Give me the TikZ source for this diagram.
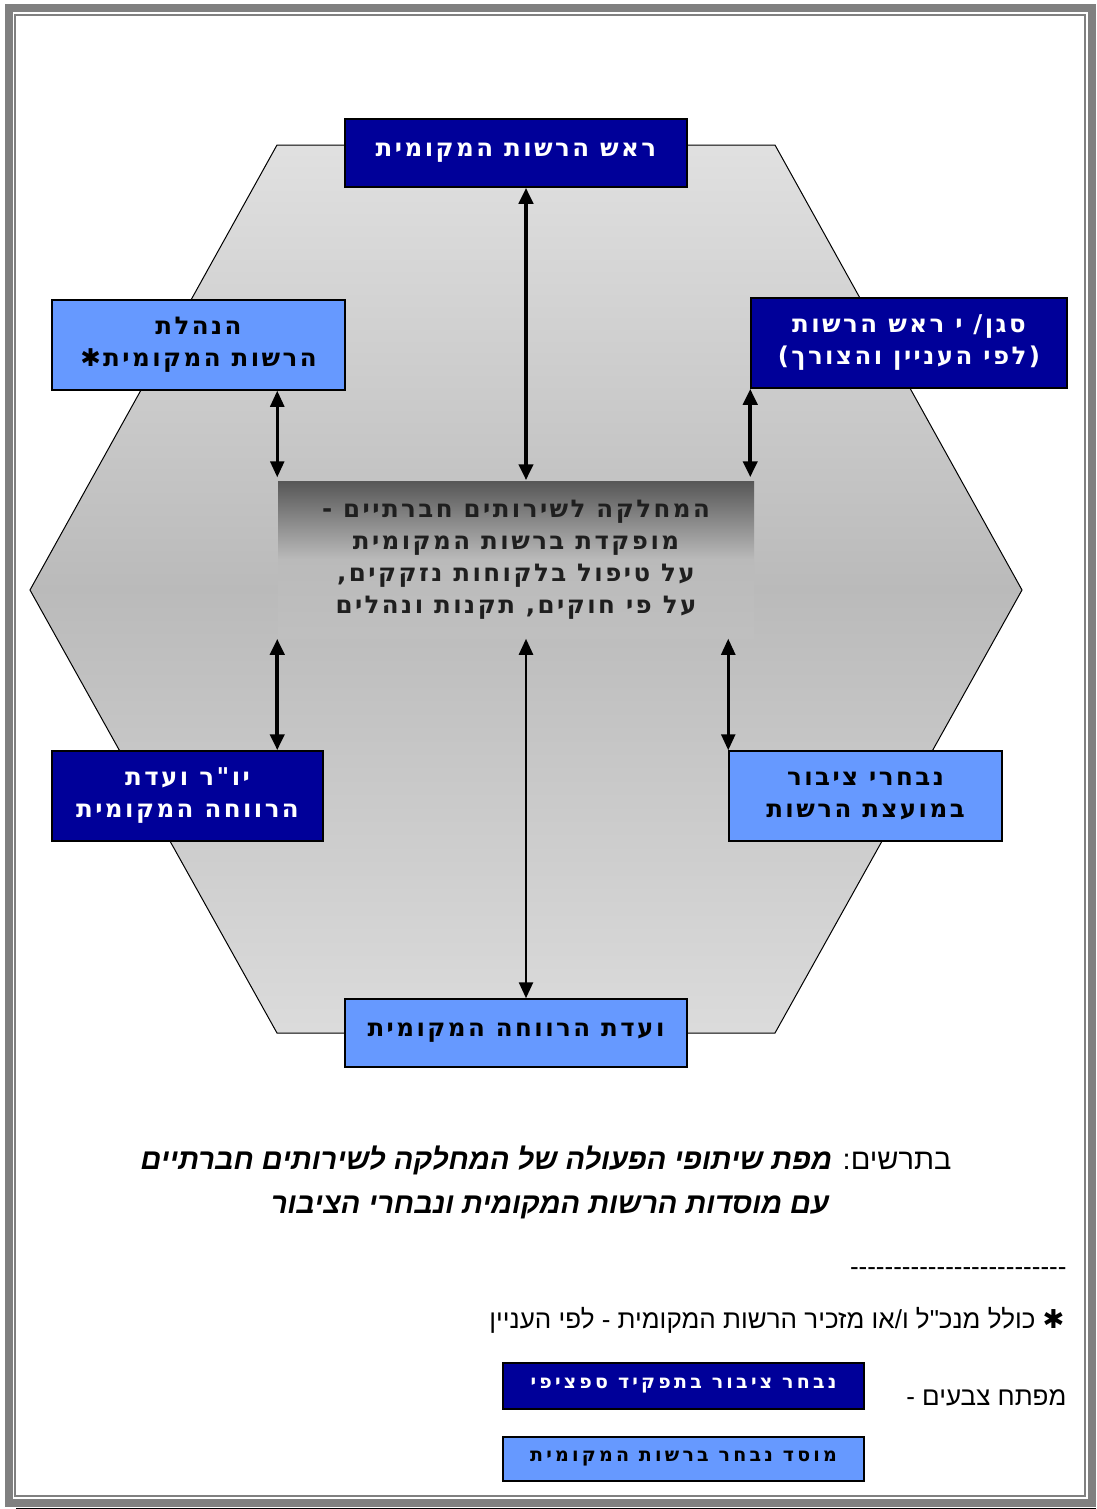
\documentclass[tikz,border=0pt]{standalone}
\usepackage{fontspec}
\usetikzlibrary{arrows.meta}
\TeXXeTstate=1
\newfontfamily\boxfont[Script=Hebrew,LetterSpace=10]{DejaVu Sans}
\newfontfamily\keyfont[Script=Hebrew,LetterSpace=17]{DejaVu Sans}
\newfontfamily\starfont{DejaVu Sans}
\newfontfamily\hebfont[Script=Hebrew]{Liberation Sans}
\definecolor{darkblue}{HTML}{000099}
\definecolor{lightblue}{HTML}{6699FF}
\definecolor{framegray}{HTML}{808080}
\tikzset{
    >={Triangle[width=14pt,length=16pt]}, % Default arrow tip
    box/.style={draw=black, line width=1.5pt, inner sep=0pt, align=center,
        font=\boxfont\bfseries\fontsize{24.5}{32}\selectfont},
    dark/.style={box, fill=darkblue, text=white},
    light/.style={box, fill=lightblue, text=black},
    keybox/.style={font=\keyfont\bfseries\fontsize{19}{22}\selectfont,
        minimum width=361pt},
    link/.style={<->, line width=4pt},
    thinlink/.style={<->, line width=2.5pt},
    heb/.style={font=\hebfont\fontsize{26}{30}\selectfont},
    title/.style={font=\hebfont\fontsize{29}{34}\selectfont},
    titlebold/.style={font=\hebfont\bfseries\itshape\fontsize{29}{34}\selectfont}
}

\begin{document}
\begin{tikzpicture}[x=1pt, y=-1pt]
    \useasboundingbox (0,0) rectangle (1096,1509);

    % frame
    \draw [framegray, line width=8pt] (9,8) rectangle (1092,1503);
    \draw [framegray, line width=2pt] (15,15) rectangle (1085,1496);
    \draw [black, line width=1.5pt] (16,1508.5) -- (1096,1508.5);

    % hexagon
    \draw
        [black, line width=1pt, top color=black!12, bottom color=black!14, middle color=black!27]
        (277,145) -- (775,145) -- (1022,590) -- (775,1033) -- (277,1033) -- (30,590) -- cycle
    ;

    \draw
        node [box, draw=none, top color=black!66, bottom color=black!25, middle color=black!27,
            text=black!88, minimum width=476pt, minimum height=157pt] (dept) at (516,559.5)
            {\beginR המחלקה לשירותים חברתיים -\endR\\
             \beginR מופקדת ברשות המקומית\endR\\
             \beginR על טיפול בלקוחות נזקקים,\endR\\
             \beginR על פי חוקים, תקנות ונהלים\endR}
        node [dark, minimum width=342pt, minimum height=68pt] (head) at (516,153)
            {\beginR ראש הרשות המקומית\endR}
        node [light, minimum width=293pt, minimum height=90pt] (mgmt) at (198.5,345)
            {\beginR הנהלת\endR\\ \beginR הרשות המקומית✱\endR}
        node [dark, minimum width=316pt, minimum height=90pt] (deputy) at (909,343)
            {\beginR סגן/ י ראש הרשות\endR\\ \beginR (לפי העניין והצורך)\endR}
        node [dark, minimum width=271pt, minimum height=90pt] (chair) at (187.5,796)
            {\beginR יו"ר ועדת\endR\\ \beginR הרווחה המקומית\endR}
        node [light, minimum width=273pt, minimum height=90pt] (council) at (865.5,796)
            {\beginR נבחרי ציבור\endR\\ \beginR במועצת הרשות\endR}
        node [light, minimum width=342pt, minimum height=68pt] (welfare) at (516,1033)
            {\beginR ועדת הרווחה המקומית\endR}
    ;

    \draw [link] ([xshift=10pt]head.south) -- ([xshift=10pt]dept.north);
    \draw [thinlink] (dept.north west |- mgmt.south) -- ([yshift=3pt]dept.north west);
    \draw [link] (deputy.south west) -- ([yshift=3pt]deputy.south west |- dept.north);
    \draw [link] (dept.south west) -- (dept.south west |- chair.north);
    \draw [thinlink] ([xshift=10pt]dept.south) -- ([xshift=10pt]welfare.north);
    \draw [thinlink] (council.north west |- dept.south) -- (council.north west);

    % caption
    \node [title, anchor=east] (caption) at (955,1160)
        {\beginR בתרשים: {\bfseries\itshape מפת שיתופי הפעולה של המחלקה לשירותים חברתיים}\endR};
    \node [titlebold] (caption2) at (550,1207)
        {\beginR עם מוסדות הרשות המקומית ונבחרי הציבור\endR};

    % notes
    \node [heb, anchor=east] (rule) at (1070,1272)
        {-{}-{}-{}-{}-{}-{}-{}-{}-{}-{}-{}-{}-{}-{}-{}-{}-{}-{}-{}-{}-{}-{}-{}-{}-};
    \node [heb, anchor=east] (note) at (1068,1320)
        {\beginR{\starfont ✱} כולל מנכ"ל ו/או מזכיר הרשות המקומית - לפי העניין\endR};
    \node [heb, anchor=east] (legend) at (1070,1398) {\beginR מפתח צבעים -\endR};

    \draw
        node [dark, keybox, minimum height=46pt] (elected) at (683.5,1386)
            {\beginR נבחר ציבור בתפקיד ספציפי\endR}
        node [light, keybox, minimum height=44pt] (body) at (683.5,1459)
            {\beginR מוסד נבחר ברשות המקומית\endR}
    ;
\end{tikzpicture}
\end{document}
